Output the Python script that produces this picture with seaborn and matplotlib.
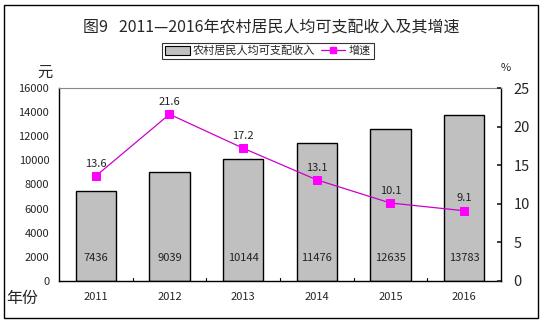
import matplotlib
matplotlib.use("Agg")
import matplotlib.pyplot as plt
import seaborn as sns
import pandas as pd
from matplotlib.patches import Rectangle
from matplotlib.lines import Line2D

years = ["2011", "2012", "2013", "2014", "2015", "2016"]
income = [7436, 9039, 10144, 11476, 12635, 13783]
growth = [13.6, 21.6, 17.2, 13.1, 10.1, 9.1]
left_ticks = [0, 2000, 4000, 6000, 8000, 10000, 12000, 14000, 16000]
right_ticks = [0, 5, 10, 15, 20, 25]

sns.set_theme(style="white")
plt.rcParams['font.family'] = ['Noto Sans CJK SC', 'DejaVu Sans']

df = pd.DataFrame({"year": years, "income": income, "growth": growth})

fig = plt.figure(figsize=(5.42, 3.24), dpi=100)
ax = fig.add_axes([59/542, 1-281/324, (501-59)/542, (281-88)/324])

sns.barplot(data=df, x="year", y="income", ax=ax, color="#C0C0C0",
            edgecolor="black", linewidth=1.0, width=0.55, saturation=1)
ax.set_ylim(0, 16000)
ax.set_xlim(-0.5, 5.5)
ax.set_yticks(left_ticks)
ax.set_yticklabels([str(t) for t in left_ticks], fontsize=8)
ax.set_xlabel("")
ax.set_ylabel("")
ax.tick_params(axis="x", length=0, labelsize=8, pad=8)
ax.tick_params(axis="y", length=0, pad=7)
for i in range(1, 6):
    ax.plot([i - 0.5, i - 0.5], [0, 250], color="black", lw=0.8, clip_on=False)
for i, v in enumerate(income):
    ax.text(i, 1900, str(v), ha="center", va="center", fontsize=8, color="#222222")

for s in ["left", "bottom", "right"]:
    ax.spines[s].set_color("black")
    ax.spines[s].set_linewidth(1.0)
ax.spines["top"].set_color("#888888")
ax.spines["top"].set_linewidth(0.8)

ax2 = ax.twinx()
sns.lineplot(data=df, x="year", y="growth", ax=ax2, color="#CC00CC", lw=0.9,
             marker="s", markersize=6, markerfacecolor="#FF00FF",
             markeredgecolor="#FF00FF", sort=False)
ax2.set_ylim(0, 25)
ax2.set_yticks(right_ticks)
ax2.set_yticklabels([str(t) for t in right_ticks], fontsize=10.5)
ax2.set_ylabel("")
ax2.tick_params(axis="y", length=3, direction="in", pad=9, right=True)
for s in ax2.spines.values():
    s.set_visible(False)
for i, g in enumerate(growth):
    ax2.text(i, g + 1.6, f"{g}", ha="center", va="center", fontsize=8, color="#222222")

fig.text(0.5, 1-27/324, "图9   2011—2016年农村居民人均可支配收入及其增速", ha="center",
         va="center", fontsize=11.5)
fig.text(45/542, 1-72/324, "元", ha="center", va="center", fontsize=11)
fig.text(506/542, 1-68/324, "%", ha="center", va="center", fontsize=8)
fig.text(22/542, 1-298/324, "年份", ha="center", va="center", fontsize=11.5)

handles = [Rectangle((0, 0), 1, 1, facecolor="#C0C0C0", edgecolor="black", lw=0.8),
           Line2D([0], [0], color="#CC00CC", lw=0.9, marker="s", markersize=5,
                  markerfacecolor="#FF00FF", markeredgecolor="#FF00FF")]
leg = fig.legend(handles, ["农村居民人均可支配收入", "增速"], loc="center",
                 bbox_to_anchor=(268/542, 1-51/324), ncol=2, frameon=True,
                 fontsize=8, handlelength=2.2, handleheight=0.8, columnspacing=0.5,
                 handletextpad=0.3, borderpad=0.25, fancybox=False)
leg.get_frame().set_edgecolor("black")
leg.get_frame().set_linewidth(0.8)

fig.patches.append(Rectangle((4/542, 1-318/324), 534/542, 313/324, transform=fig.transFigure,
                             fill=False, edgecolor="black", lw=1.0))

fig.savefig("out.png", dpi=100)
